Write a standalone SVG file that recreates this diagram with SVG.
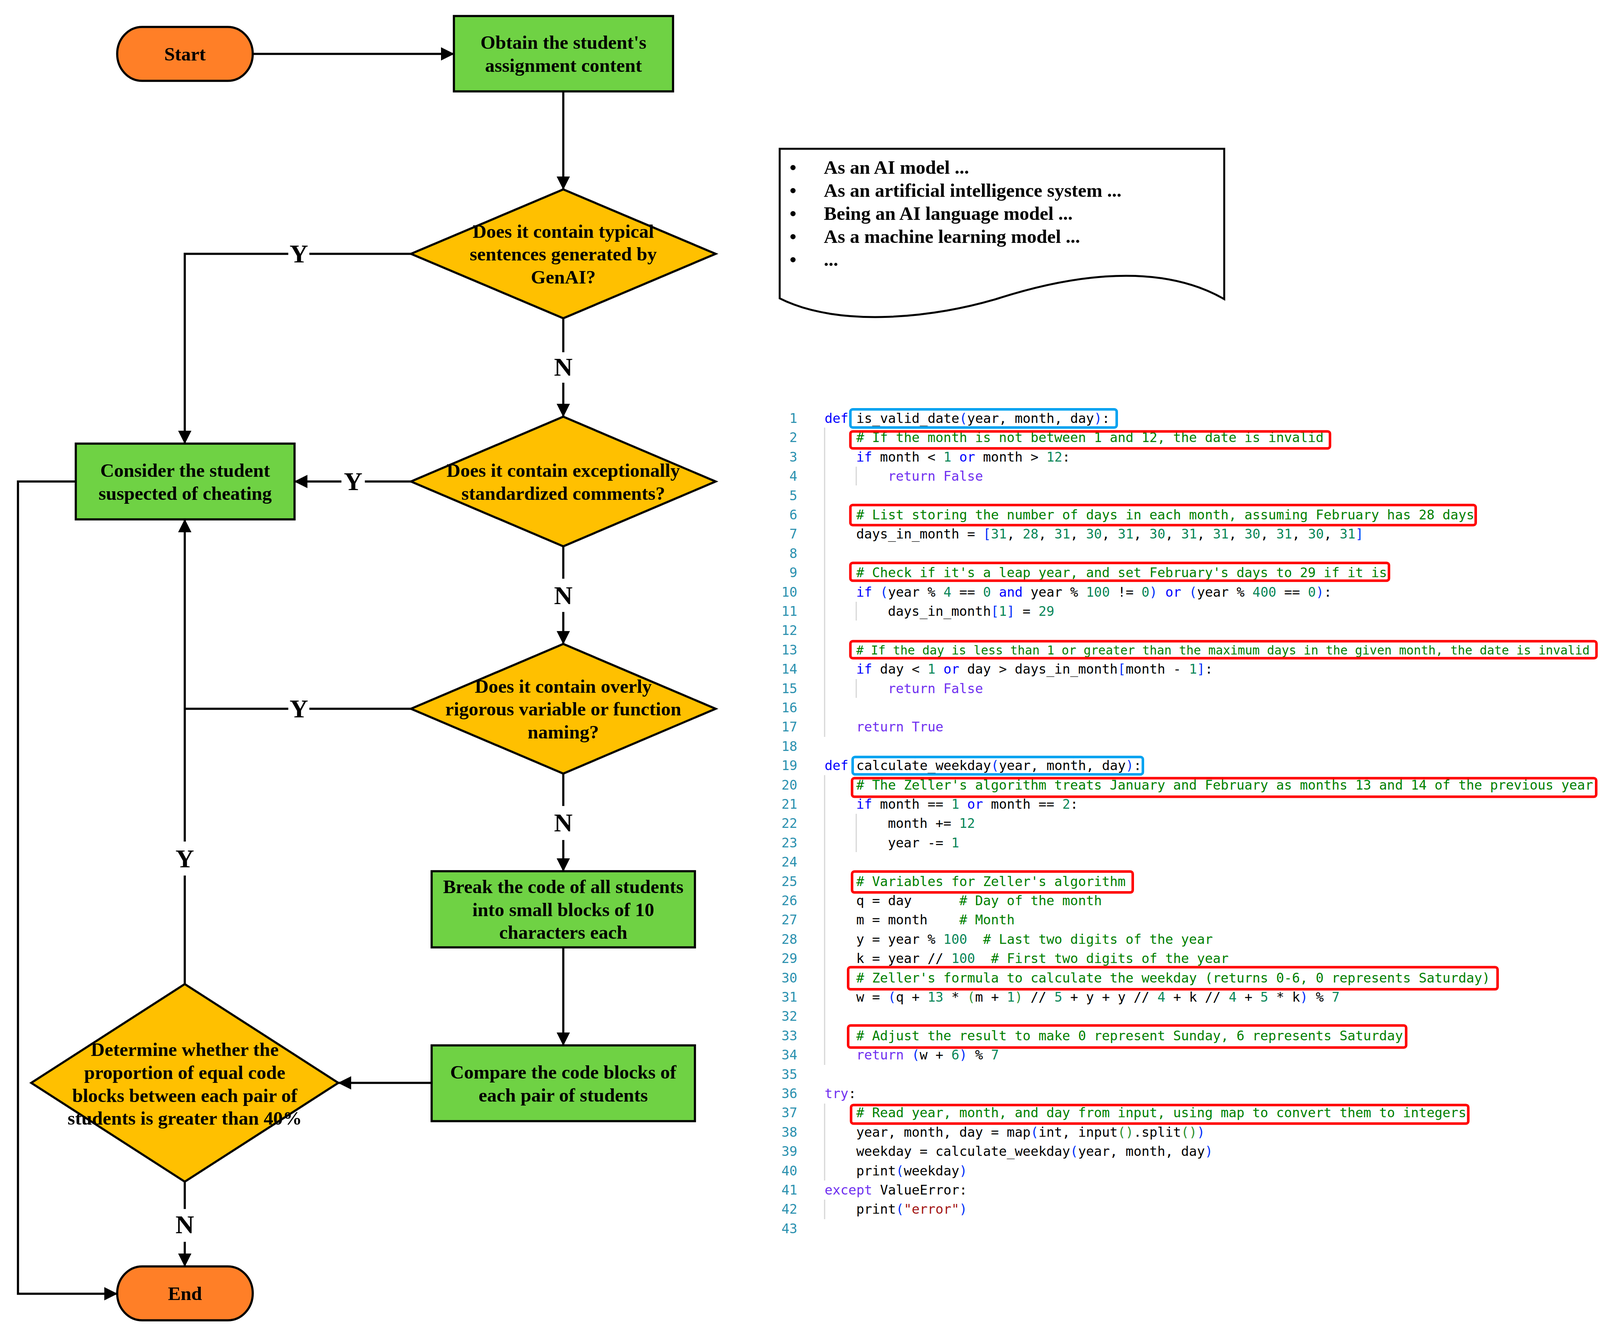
<svg xmlns="http://www.w3.org/2000/svg" width="4262" height="3434" viewBox="0 0 4262 3434">
<defs>
<marker id="arr" markerUnits="userSpaceOnUse" markerWidth="34" markerHeight="34" refX="33" refY="17" orient="auto">
<path d="M0,0 L34,17 L0,34 z" fill="#000"/>
</marker>
<style>
.t{font-family:"Liberation Serif","Times New Roman",serif;font-weight:bold;font-size:49px;fill:#000;text-anchor:middle}
.tl{font-family:"Liberation Serif","Times New Roman",serif;font-weight:bold;font-size:49px;fill:#000}
.lbl{font-family:"Liberation Serif","Times New Roman",serif;font-weight:bold;font-size:66px;fill:#000;text-anchor:middle}
.conn{stroke:#000;stroke-width:5.5;fill:none}
.term{fill:#FF7F27;stroke:#000;stroke-width:5.5}
.proc{fill:#6FD244;stroke:#000;stroke-width:5.5}
.dec{fill:#FFC000;stroke:#000;stroke-width:5.5}
.code{font-family:"DejaVu Sans Mono","Liberation Mono",monospace;font-size:33.7px;fill:#000;white-space:pre}
.narrow{font-size:31.2px}
.ln{font-family:"DejaVu Sans Mono","Liberation Mono",monospace;font-size:33.7px;fill:#2B91AF;text-anchor:end}
.kw{fill:#0000FF}
.ct{fill:#7030F0}
.nu{fill:#098658}
.cm{fill:#008000}
.b1{fill:#0431FA}
.b2{fill:#319331}
.st{fill:#A31515}
.guide{stroke:#D6D6D6;stroke-width:3}
.hr{fill:none;stroke:#FF0000;stroke-width:6.5}
.hb{fill:none;stroke:#00A2F0;stroke-width:6.5}
</style>
</defs>
<rect width="4262" height="3434" fill="#fff"/>

<g id="connectors">
<path class="conn" d="M648,138 H1162" marker-end="url(#arr)"/>
<path class="conn" d="M1442,234 V485" marker-end="url(#arr)"/>
<path class="conn" d="M1052,650 H792"/>
<path class="conn" d="M738,650 H473 V1136" marker-end="url(#arr)"/>
<path class="conn" d="M1442,815 V902"/>
<path class="conn" d="M1442,980 V1067" marker-end="url(#arr)"/>
<path class="conn" d="M1052,1233 H934"/>
<path class="conn" d="M874,1233 H754" marker-end="url(#arr)"/>
<path class="conn" d="M1442,1399 V1482"/>
<path class="conn" d="M1442,1567 V1649" marker-end="url(#arr)"/>
<path class="conn" d="M1052,1815 H792"/>
<path class="conn" d="M738,1815 H473"/>
<path class="conn" d="M1442,1981 V2064"/>
<path class="conn" d="M1442,2151 V2231" marker-end="url(#arr)"/>
<path class="conn" d="M1442,2426 V2677" marker-end="url(#arr)"/>
<path class="conn" d="M1105,2773 H866" marker-end="url(#arr)"/>
<path class="conn" d="M473,2520 V2242"/>
<path class="conn" d="M473,2155 V1330" marker-end="url(#arr)"/>
<path class="conn" d="M473,3026 V3096"/>
<path class="conn" d="M473,3180 V3243" marker-end="url(#arr)"/>
<path class="conn" d="M194,1233 H46 V3313 H300" marker-end="url(#arr)"/>
<text class="lbl" x="765" y="672">Y</text>
<text class="lbl" x="1442" y="962">N</text>
<text class="lbl" x="904" y="1255">Y</text>
<text class="lbl" x="1442" y="1547">N</text>
<text class="lbl" x="765" y="1837">Y</text>
<text class="lbl" x="1442" y="2129">N</text>
<text class="lbl" x="473" y="2221">Y</text>
<text class="lbl" x="473" y="3158">N</text>
</g>

<g id="start">
<rect class="term" x="300" y="69" width="347" height="138" rx="64" ry="69"/>
<text class="t" x="473.5" y="155">Start</text>
</g>
<g id="obtain">
<rect class="proc" x="1162" y="41" width="561" height="193"/>
<text class="t" x="1442.5" y="125">Obtain the student's</text>
<text class="t" x="1442.5" y="184">assignment content</text>
</g>
<g id="decision1">
<polygon class="dec" points="1442,485 1832,650 1442,815 1052,650"/>
<text class="t" x="1442" y="608.5">Does it contain typical</text>
<text class="t" x="1442" y="667">sentences generated by</text>
<text class="t" x="1442" y="725.5">GenAI?</text>
</g>
<g id="suspected">
<rect class="proc" x="194" y="1136" width="560" height="194"/>
<text class="t" x="474" y="1221">Consider the student</text>
<text class="t" x="474" y="1280">suspected of cheating</text>
</g>
<g id="decision2">
<polygon class="dec" points="1442,1067 1832,1233 1442,1399 1052,1233"/>
<text class="t" x="1442" y="1221">Does it contain exceptionally</text>
<text class="t" x="1442" y="1280">standardized comments?</text>
</g>
<g id="decision3">
<polygon class="dec" points="1442,1649 1832,1815 1442,1981 1052,1815"/>
<text class="t" x="1442" y="1773.5">Does it contain overly</text>
<text class="t" x="1442" y="1832">rigorous variable or function</text>
<text class="t" x="1442" y="1890.5">naming?</text>
</g>
<g id="break">
<rect class="proc" x="1105" y="2231" width="674" height="195"/>
<text class="t" x="1442" y="2287">Break the code of all students</text>
<text class="t" x="1442" y="2345.5">into small blocks of 10</text>
<text class="t" x="1442" y="2404">characters each</text>
</g>
<g id="compare">
<rect class="proc" x="1105" y="2677" width="674" height="194"/>
<text class="t" x="1442" y="2761.5">Compare the code blocks of</text>
<text class="t" x="1442" y="2820.5">each pair of students</text>
</g>
<g id="decision4">
<polygon class="dec" points="473,2520 866,2773 473,3026 80,2773"/>
<text class="t" x="473" y="2704">Determine whether the</text>
<text class="t" x="473" y="2763">proportion of equal code</text>
<text class="t" x="473" y="2821.5">blocks between each pair of</text>
<text class="t" x="473" y="2880">students is greater than 40%</text>
</g>
<g id="end">
<rect class="term" x="300" y="3243" width="347" height="138" rx="64" ry="69"/>
<text class="t" x="473.5" y="3329">End</text>
</g>

<g id="typical-sentences">
<path d="M1996,764 V381 H3134 V766 C2950,660 2700,718 2556,764 C2400,812 2150,842 1996,764 Z" fill="#fff" stroke="#000" stroke-width="5"/>
<text class="tl" x="2030" y="445" text-anchor="middle">•</text>
<text class="tl" x="2109" y="445">As an AI model ...</text>
<text class="tl" x="2030" y="504" text-anchor="middle">•</text>
<text class="tl" x="2109" y="504">As an artificial intelligence system ...</text>
<text class="tl" x="2030" y="563" text-anchor="middle">•</text>
<text class="tl" x="2109" y="563">Being an AI language model ...</text>
<text class="tl" x="2030" y="622" text-anchor="middle">•</text>
<text class="tl" x="2109" y="622">As a machine learning model ...</text>
<text class="tl" x="2030" y="681" text-anchor="middle">•</text>
<text class="tl" x="2109" y="681">...</text>
</g>

<g id="code-listing">
<g id="indent-guides">
<line class="guide" x1="2111" y1="1095" x2="2111" y2="1887"/>
<line class="guide" x1="2111" y1="1985" x2="2111" y2="2727"/>
<line class="guide" x1="2111" y1="2826" x2="2111" y2="3023"/>
<line class="guide" x1="2111" y1="3072" x2="2111" y2="3122"/>
<line class="guide" x1="2192" y1="1195" x2="2192" y2="1243"/>
<line class="guide" x1="2192" y1="1541" x2="2192" y2="1589"/>
<line class="guide" x1="2192" y1="1739" x2="2192" y2="1787"/>
<line class="guide" x1="2192" y1="2084" x2="2192" y2="2182"/>
</g>
<g id="line-numbers">
<text class="ln" x="2041" y="1083">1</text>
<text class="ln" x="2041" y="1132.4">2</text>
<text class="ln" x="2041" y="1181.8">3</text>
<text class="ln" x="2041" y="1231.2">4</text>
<text class="ln" x="2041" y="1280.6">5</text>
<text class="ln" x="2041" y="1330">6</text>
<text class="ln" x="2041" y="1379.4">7</text>
<text class="ln" x="2041" y="1428.8">8</text>
<text class="ln" x="2041" y="1478.2">9</text>
<text class="ln" x="2041" y="1527.6">10</text>
<text class="ln" x="2041" y="1577">11</text>
<text class="ln" x="2041" y="1626.4">12</text>
<text class="ln" x="2041" y="1675.8">13</text>
<text class="ln" x="2041" y="1725.2">14</text>
<text class="ln" x="2041" y="1774.6">15</text>
<text class="ln" x="2041" y="1824">16</text>
<text class="ln" x="2041" y="1873.4">17</text>
<text class="ln" x="2041" y="1922.8">18</text>
<text class="ln" x="2041" y="1972.2">19</text>
<text class="ln" x="2041" y="2021.6">20</text>
<text class="ln" x="2041" y="2071">21</text>
<text class="ln" x="2041" y="2120.4">22</text>
<text class="ln" x="2041" y="2169.8">23</text>
<text class="ln" x="2041" y="2219.2">24</text>
<text class="ln" x="2041" y="2268.6">25</text>
<text class="ln" x="2041" y="2318">26</text>
<text class="ln" x="2041" y="2367.4">27</text>
<text class="ln" x="2041" y="2416.8">28</text>
<text class="ln" x="2041" y="2466.2">29</text>
<text class="ln" x="2041" y="2515.6">30</text>
<text class="ln" x="2041" y="2565">31</text>
<text class="ln" x="2041" y="2614.4">32</text>
<text class="ln" x="2041" y="2663.8">33</text>
<text class="ln" x="2041" y="2713.2">34</text>
<text class="ln" x="2041" y="2762.6">35</text>
<text class="ln" x="2041" y="2812">36</text>
<text class="ln" x="2041" y="2861.4">37</text>
<text class="ln" x="2041" y="2910.8">38</text>
<text class="ln" x="2041" y="2960.2">39</text>
<text class="ln" x="2041" y="3009.6">40</text>
<text class="ln" x="2041" y="3059">41</text>
<text class="ln" x="2041" y="3108.4">42</text>
<text class="ln" x="2041" y="3157.8">43</text>
</g>
<g id="code-lines">
<text xml:space="preserve" class="code" x="2111" y="1083"><tspan class="kw">def</tspan> is_valid_date<tspan class="b1">(</tspan>year, month, day<tspan class="b1">)</tspan>:</text>
<text xml:space="preserve" class="code cm" x="2192" y="1132.4"># If the month is not between 1 and 12, the date is invalid</text>
<text xml:space="preserve" class="code" x="2192" y="1181.8"><tspan class="kw">if</tspan> month &lt; <tspan class="nu">1</tspan> <tspan class="kw">or</tspan> month &gt; <tspan class="nu">12</tspan>:</text>
<text xml:space="preserve" class="code" x="2273" y="1231.2"><tspan class="ct">return</tspan> <tspan class="ct">False</tspan></text>
<text xml:space="preserve" class="code cm" x="2192" y="1330"># List storing the number of days in each month, assuming February has 28 days</text>
<text xml:space="preserve" class="code" x="2192" y="1379.4">days_in_month = <tspan class="b1">[</tspan><tspan class="nu">31</tspan>, <tspan class="nu">28</tspan>, <tspan class="nu">31</tspan>, <tspan class="nu">30</tspan>, <tspan class="nu">31</tspan>, <tspan class="nu">30</tspan>, <tspan class="nu">31</tspan>, <tspan class="nu">31</tspan>, <tspan class="nu">30</tspan>, <tspan class="nu">31</tspan>, <tspan class="nu">30</tspan>, <tspan class="nu">31</tspan><tspan class="b1">]</tspan></text>
<text xml:space="preserve" class="code cm" x="2192" y="1478.2"># Check if it's a leap year, and set February's days to 29 if it is</text>
<text xml:space="preserve" class="code" x="2192" y="1527.6"><tspan class="kw">if</tspan> <tspan class="b1">(</tspan>year % <tspan class="nu">4</tspan> == <tspan class="nu">0</tspan> <tspan class="kw">and</tspan> year % <tspan class="nu">100</tspan> != <tspan class="nu">0</tspan><tspan class="b1">)</tspan> <tspan class="kw">or</tspan> <tspan class="b1">(</tspan>year % <tspan class="nu">400</tspan> == <tspan class="nu">0</tspan><tspan class="b1">)</tspan>:</text>
<text xml:space="preserve" class="code" x="2273" y="1577">days_in_month<tspan class="b1">[</tspan><tspan class="nu">1</tspan><tspan class="b1">]</tspan> = <tspan class="nu">29</tspan></text>
<text xml:space="preserve" class="code cm narrow" x="2192" y="1675.8"># If the day is less than 1 or greater than the maximum days in the given month, the date is invalid</text>
<text xml:space="preserve" class="code" x="2192" y="1725.2"><tspan class="kw">if</tspan> day &lt; <tspan class="nu">1</tspan> <tspan class="kw">or</tspan> day &gt; days_in_month<tspan class="b1">[</tspan>month - <tspan class="nu">1</tspan><tspan class="b1">]</tspan>:</text>
<text xml:space="preserve" class="code" x="2273" y="1774.6"><tspan class="ct">return</tspan> <tspan class="ct">False</tspan></text>
<text xml:space="preserve" class="code" x="2192" y="1873.4"><tspan class="ct">return</tspan> <tspan class="ct">True</tspan></text>
<text xml:space="preserve" class="code" x="2111" y="1972.2"><tspan class="kw">def</tspan> calculate_weekday<tspan class="b1">(</tspan>year, month, day<tspan class="b1">)</tspan>:</text>
<text xml:space="preserve" class="code cm" x="2192" y="2021.6"># The Zeller's algorithm treats January and February as months 13 and 14 of the previous year</text>
<text xml:space="preserve" class="code" x="2192" y="2071"><tspan class="kw">if</tspan> month == <tspan class="nu">1</tspan> <tspan class="kw">or</tspan> month == <tspan class="nu">2</tspan>:</text>
<text xml:space="preserve" class="code" x="2273" y="2120.4">month += <tspan class="nu">12</tspan></text>
<text xml:space="preserve" class="code" x="2273" y="2169.8">year -= <tspan class="nu">1</tspan></text>
<text xml:space="preserve" class="code cm" x="2192" y="2268.6"># Variables for Zeller's algorithm</text>
<text xml:space="preserve" class="code" x="2192" y="2318">q = day      <tspan class="cm"># Day of the month</tspan></text>
<text xml:space="preserve" class="code" x="2192" y="2367.4">m = month    <tspan class="cm"># Month</tspan></text>
<text xml:space="preserve" class="code" x="2192" y="2416.8">y = year % <tspan class="nu">100</tspan>  <tspan class="cm"># Last two digits of the year</tspan></text>
<text xml:space="preserve" class="code" x="2192" y="2466.2">k = year // <tspan class="nu">100</tspan>  <tspan class="cm"># First two digits of the year</tspan></text>
<text xml:space="preserve" class="code cm" x="2192" y="2515.6"># Zeller's formula to calculate the weekday (returns 0-6, 0 represents Saturday)</text>
<text xml:space="preserve" class="code" x="2192" y="2565">w = <tspan class="b1">(</tspan>q + <tspan class="nu">13</tspan> * <tspan class="b2">(</tspan>m + <tspan class="nu">1</tspan><tspan class="b2">)</tspan> // <tspan class="nu">5</tspan> + y + y // <tspan class="nu">4</tspan> + k // <tspan class="nu">4</tspan> + <tspan class="nu">5</tspan> * k<tspan class="b1">)</tspan> % <tspan class="nu">7</tspan></text>
<text xml:space="preserve" class="code cm" x="2192" y="2663.8"># Adjust the result to make 0 represent Sunday, 6 represents Saturday</text>
<text xml:space="preserve" class="code" x="2192" y="2713.2"><tspan class="ct">return</tspan> <tspan class="b1">(</tspan>w + <tspan class="nu">6</tspan><tspan class="b1">)</tspan> % <tspan class="nu">7</tspan></text>
<text xml:space="preserve" class="code" x="2111" y="2812"><tspan class="ct">try</tspan>:</text>
<text xml:space="preserve" class="code cm" x="2192" y="2861.4"># Read year, month, and day from input, using map to convert them to integers</text>
<text xml:space="preserve" class="code" x="2192" y="2910.8">year, month, day = map<tspan class="b1">(</tspan>int, input<tspan class="b2">()</tspan>.split<tspan class="b2">()</tspan><tspan class="b1">)</tspan></text>
<text xml:space="preserve" class="code" x="2192" y="2960.2">weekday = calculate_weekday<tspan class="b1">(</tspan>year, month, day<tspan class="b1">)</tspan></text>
<text xml:space="preserve" class="code" x="2192" y="3009.6">print<tspan class="b1">(</tspan>weekday<tspan class="b1">)</tspan></text>
<text xml:space="preserve" class="code" x="2111" y="3059"><tspan class="ct">except</tspan> ValueError:</text>
<text xml:space="preserve" class="code" x="2192" y="3108.4">print<tspan class="b1">(</tspan><tspan class="st">"error"</tspan><tspan class="b1">)</tspan></text>
</g>
<g id="highlights">
<rect class="hb" x="2177" y="1048.25" width="681.75" height="46.5" rx="6"/>
<rect class="hr" x="2177" y="1104.65" width="1227.75" height="43.5" rx="6"/>
<rect class="hr" x="2177" y="1293.25" width="1600.75" height="51.5" rx="6"/>
<rect class="hr" x="2177" y="1441.45" width="1378.75" height="45.5" rx="6"/>
<rect class="hr" x="2177" y="1642.05" width="1910" height="43.5" rx="6"/>
<rect class="hb" x="2182.75" y="1938.45" width="743" height="44.5" rx="6"/>
<rect class="hr" x="2181.25" y="1992.85" width="1905" height="47.5" rx="6"/>
<rect class="hr" x="2181.25" y="2231.85" width="718.5" height="53.5" rx="6"/>
<rect class="hr" x="2171.25" y="2476.85" width="1662.5" height="56.5" rx="6"/>
<rect class="hr" x="2171.25" y="2626.05" width="1428.5" height="56.5" rx="6"/>
<rect class="hr" x="2178.75" y="2829.65" width="1580" height="47.5" rx="6"/>
</g>
</g>
</svg>
